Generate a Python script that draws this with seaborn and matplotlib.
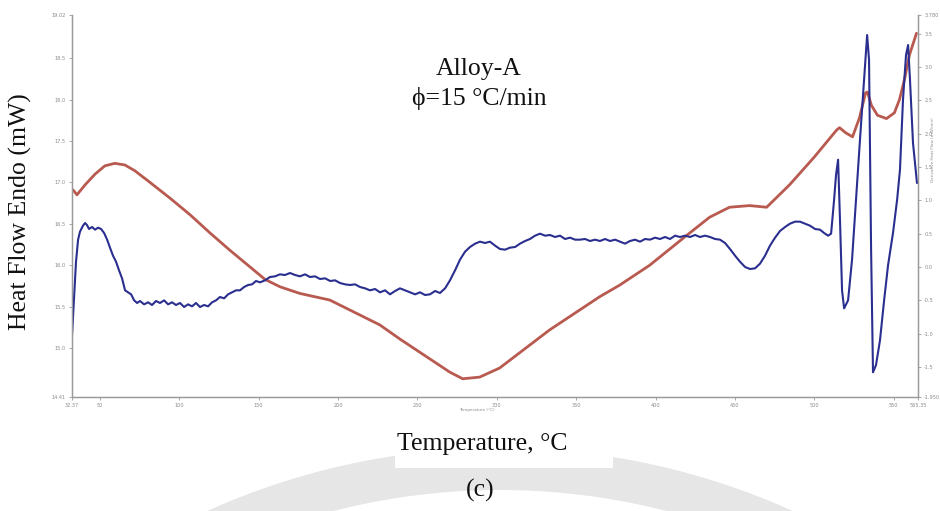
import matplotlib
matplotlib.use("Agg")
import matplotlib.pyplot as plt
from matplotlib.patches import Wedge, Rectangle
import seaborn as sns
import pandas as pd

# ---------------- data ----------------
# Heat flow curve (red, left axis, mW)
temp_heat = [33.0, 35.5, 40.6, 46.9, 53.1, 59.4, 65.7, 72.0, 81.5, 94.1,
             106.7, 119.3, 131.9, 144.5, 153.9, 163.4, 175.9, 194.8, 207.4, 226.3,
             238.9, 257.8, 270.4, 278.5, 289.2, 301.8, 333.3, 364.8, 377.4, 396.3,
             419.6, 434.1, 446.6, 459.2, 470.0, 484.4, 500.2, 514.0, 515.9, 519.7,
             524.1, 528.5, 532.3, 533.5, 536.0, 539.8, 545.5, 550.5, 553.7, 556.8,
             560.0, 564.4]
heat_flow = [16.91, 16.85, 16.97, 17.10, 17.20, 17.23, 17.21, 17.14, 17.00, 16.81,
             16.61, 16.39, 16.18, 15.98, 15.83, 15.74, 15.66, 15.58, 15.46, 15.28,
             15.11, 14.87, 14.71, 14.63, 14.65, 14.76, 15.22, 15.62, 15.76, 16.00,
             16.36, 16.58, 16.70, 16.72, 16.70, 16.97, 17.31, 17.63, 17.66, 17.60,
             17.55, 17.78, 18.08, 18.09, 17.93, 17.81, 17.77, 17.84, 18.00, 18.24,
             18.54, 18.80]

# Derivative curve (blue, right axis)
temp_deriv = [32.4, 33.6, 34.9, 36.2, 37.4, 39.3, 40.6, 41.8, 43.1, 45.0,
              46.9, 48.8, 50.7, 52.6, 54.5, 56.3, 58.2, 60.1, 62.0, 63.9,
              65.8, 67.7, 69.6, 71.5, 73.4, 75.2, 77.8, 80.3, 82.8, 85.3,
              87.8, 90.4, 92.9, 95.4, 97.9, 100.4, 103.0, 105.5, 108.0, 110.5,
              113.0, 115.6, 118.1, 120.6, 123.1, 125.6, 128.2, 130.7, 133.2, 135.7,
              138.2, 140.8, 143.3, 145.8, 148.3, 150.8, 154.0, 157.1, 160.3, 163.4,
              166.6, 169.7, 172.9, 176.0, 179.2, 182.3, 185.5, 188.6, 191.8, 195.0,
              198.1, 201.2, 204.4, 207.5, 210.7, 213.8, 217.0, 220.1, 223.3, 226.4,
              229.6, 232.7, 235.9, 239.0, 242.2, 245.3, 248.5, 251.6, 254.8, 257.9,
              261.1, 264.2, 267.4, 270.5, 273.7, 276.8, 280.0, 283.1, 286.3, 289.4,
              292.6, 295.7, 298.9, 302.0, 305.2, 308.3, 311.5, 314.6, 317.8, 320.9,
              324.1, 327.2, 330.4, 333.5, 336.7, 339.8, 343.0, 346.1, 349.3, 352.4,
              355.6, 358.7, 361.9, 365.0, 368.2, 371.3, 374.5, 377.6, 380.8, 383.9,
              387.1, 390.2, 393.4, 396.5, 399.7, 402.8, 406.0, 409.1, 412.3, 415.4,
              418.6, 421.7, 424.9, 428.0, 431.2, 434.3, 437.5, 440.6, 443.8, 446.9,
              450.1, 453.2, 456.4, 459.5, 462.7, 465.8, 469.0, 472.1, 475.3, 478.4,
              481.6, 484.7, 487.9, 491.0, 494.2, 497.3, 500.5, 503.6, 506.2, 508.7,
              510.6, 512.5, 513.7, 515.0, 516.2, 517.5, 518.8, 521.3, 523.8, 526.3,
              528.8, 531.4, 533.3, 534.5, 535.8, 537.0, 538.9, 541.4, 544.0, 546.5,
              549.6, 552.2, 554.0, 555.9, 557.8, 559.1, 560.3, 562.2, 564.7]
deriv = [-1.02, -0.50, 0.08, 0.41, 0.53, 0.62, 0.66, 0.63, 0.57, 0.60,
         0.56, 0.59, 0.57, 0.51, 0.41, 0.29, 0.17, 0.08, -0.05, -0.17,
         -0.35, -0.38, -0.41, -0.50, -0.54, -0.51, -0.56, -0.53, -0.57, -0.51,
         -0.54, -0.50, -0.56, -0.53, -0.57, -0.54, -0.60, -0.56, -0.59, -0.54,
         -0.60, -0.57, -0.59, -0.53, -0.50, -0.45, -0.47, -0.41, -0.38, -0.35,
         -0.35, -0.30, -0.27, -0.26, -0.21, -0.23, -0.20, -0.15, -0.14, -0.11,
         -0.12, -0.09, -0.12, -0.14, -0.11, -0.15, -0.14, -0.18, -0.17, -0.21,
         -0.20, -0.24, -0.26, -0.27, -0.26, -0.30, -0.32, -0.35, -0.33, -0.38,
         -0.35, -0.41, -0.36, -0.32, -0.35, -0.38, -0.41, -0.38, -0.42, -0.41,
         -0.36, -0.39, -0.32, -0.20, -0.05, 0.11, 0.23, 0.30, 0.35, 0.38,
         0.36, 0.38, 0.32, 0.27, 0.26, 0.29, 0.30, 0.35, 0.39, 0.42,
         0.47, 0.50, 0.47, 0.48, 0.45, 0.47, 0.42, 0.44, 0.41, 0.41,
         0.42, 0.39, 0.41, 0.39, 0.42, 0.39, 0.41, 0.38, 0.35, 0.39,
         0.41, 0.38, 0.42, 0.41, 0.44, 0.42, 0.45, 0.42, 0.47, 0.45,
         0.47, 0.45, 0.48, 0.45, 0.47, 0.45, 0.42, 0.41, 0.36, 0.27,
         0.17, 0.08, 0.00, -0.03, -0.02, 0.05, 0.17, 0.32, 0.44, 0.54,
         0.60, 0.65, 0.68, 0.68, 0.65, 0.62, 0.57, 0.56, 0.51, 0.47,
         0.50, 1.01, 1.38, 1.61, 0.71, -0.35, -0.62, -0.50, 0.11, 1.01,
         1.91, 2.81, 3.48, 3.11, 0.26, -1.58, -1.47, -1.10, -0.50, 0.03,
         0.51, 1.01, 1.46, 2.51, 3.18, 3.33, 2.81, 1.86, 1.26]

# Axis ranges and tick values
x_range = (32.37, 565.35)
x_ticks = [32.37, 50, 100, 150, 200, 250, 300, 350, 400, 450, 500, 550, 565.35]
left_range = (14.41, 19.02)
left_ticks = [14.41, 15.0, 15.5, 16.0, 16.5, 17.0, 17.5, 18.0, 18.5, 19.02]
right_range = (-1.95, 3.78)
right_ticks = [-1.95, -1.5, -1.0, -0.5, 0.0, 0.5, 1.0, 1.5, 2.0, 2.5, 3.0, 3.5, 3.78]

title_lines = ["Alloy-A", "\u03d5=15 \u00b0C/min"]
ylabel = "Heat Flow Endo (mW)"
xlabel = "Temperature, \u00b0C"
caption = "(c)"

heat_df = pd.DataFrame({"T": temp_heat, "H": heat_flow})
deriv_df = pd.DataFrame({"T": temp_deriv, "D": deriv})

# ---------------- figure ----------------
sns.set_theme(style="white")
plt.rcParams["font.family"] = ["Liberation Serif", "DejaVu Serif"]

W, H = 940, 511
fig = plt.figure(figsize=(W / 100, H / 100), dpi=100)
fig.patch.set_facecolor("white")

# faint background watermark band (page scan decoration) in pixel coords
bg = fig.add_axes([0, 0, 1, 1], zorder=-5)
bg.set_xlim(0, W)
bg.set_ylim(H, 0)
bg.axis("off")
bg.add_patch(Wedge((500, 1160), 712, 0, 360, width=42, facecolor="#e6e6e6",
                   edgecolor="none"))
bg.add_patch(Rectangle((395, 400), 218, 68, facecolor="white", edgecolor="none"))

ax = fig.add_axes([72 / W, 1 - 397 / H, 846 / W, 382 / H])
ax2 = ax.twinx()

sns.lineplot(data=deriv_df, x="T", y="D", ax=ax2, color="#2a2f8f",
             linewidth=1.5, sort=False, estimator=None)
sns.lineplot(data=heat_df, x="T", y="H", ax=ax, color="#b95a50",
             linewidth=2.0, sort=False, estimator=None)

ax.set_xlim(*x_range)
ax.set_ylim(*left_range)
ax2.set_ylim(*right_range)

ax.set_xticks(x_ticks)
ax.set_xticklabels([f"{v:.2f}" if v % 1 else f"{v:.0f}" for v in x_ticks])
ax.set_yticks(left_ticks)
ax.set_yticklabels([f"{v:.2f}" if i in (0, len(left_ticks) - 1) else f"{v:.1f}"
                    for i, v in enumerate(left_ticks)])
ax2.set_yticks(right_ticks)
ax2.set_yticklabels([f"{v:.3f}" if i in (0, len(right_ticks) - 1) else f"{v:.1f}"
                     for i, v in enumerate(right_ticks)])

for a in (ax, ax2):
    a.set_xlabel("")
    a.set_ylabel("")
    a.grid(False)
    for side in ("left", "bottom", "right"):
        a.spines[side].set_visible(True)
        a.spines[side].set_color("#9a9a9a")
        a.spines[side].set_linewidth(0.9)
    a.spines["top"].set_visible(False)
    a.tick_params(length=2.5, width=0.6, color="#9a9a9a", labelsize=3.6,
                  labelcolor="#8a8a8a", pad=2)
    for lab in a.get_xticklabels() + a.get_yticklabels():
        lab.set_fontfamily("DejaVu Sans")
ax.tick_params(axis="y", left=True, direction="out")
ax.tick_params(axis="x", bottom=True, direction="out")
ax2.tick_params(axis="y", right=True, direction="out")

# tiny inner axis captions from the instrument software
ax.text(0.478, -0.028, "Temperature (\u00b0C)", transform=ax.transAxes,
        ha="center", va="top", fontsize=3, color="#8a8a8a", family="DejaVu Sans")
fig.text(933 / W, 1 - 150 / H, "Derivative Heat Flow (mW/min)", rotation=90,
         ha="center", va="center", fontsize=3, color="#8a8a8a", family="DejaVu Sans")

# annotations
fig.text(479 / W, 1 - 75 / H, title_lines[0], ha="center", va="baseline",
         fontsize=18.5, color="#111111")
fig.text(479 / W, 1 - 105 / H, title_lines[1], ha="center", va="baseline",
         fontsize=18.5, color="#111111")
fig.text(20 / W, 1 - 212 / H, ylabel, rotation=90, ha="center", va="center",
         fontsize=18.5, color="#111111")
fig.text(482 / W, 1 - 450 / H, xlabel, ha="center", va="baseline",
         fontsize=18.5, color="#111111")
fig.text(480 / W, 1 - 497 / H, caption, ha="center", va="baseline",
         fontsize=18.5, color="#111111")

fig.savefig("out.png", dpi=100, facecolor="white")
